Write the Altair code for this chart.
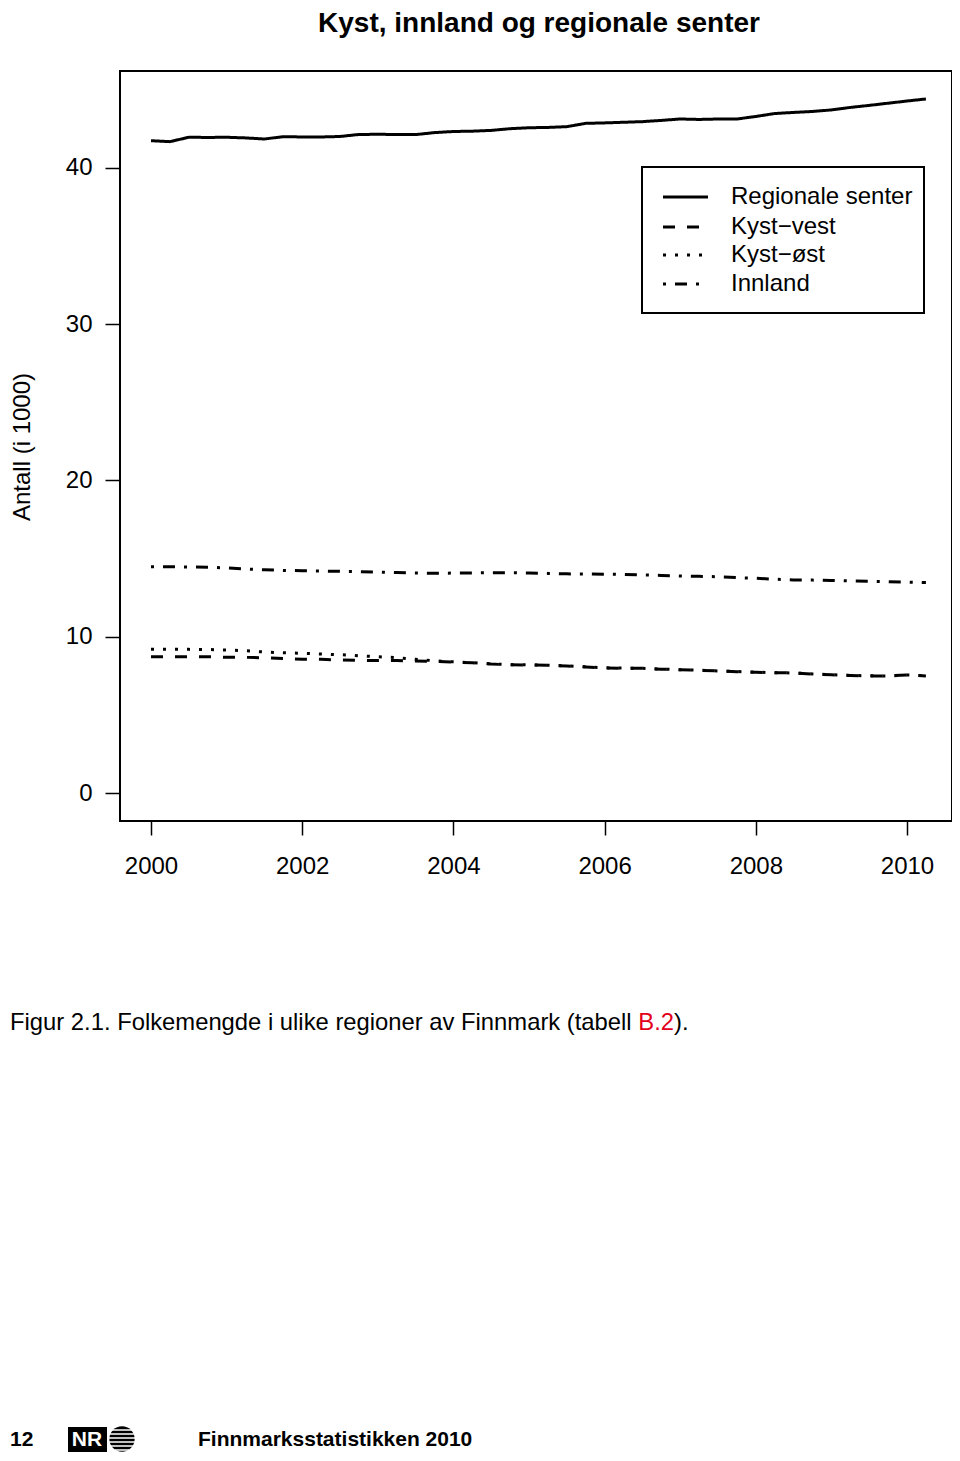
import altair as alt
import pandas as pd

FONT = "Liberation Sans"

# quarterly time index (2000 Q1 .. 2010 Q2)
quarters = [2000 + q / 4 for q in range(42)]

regionale = [41.73, 41.67, 41.95, 41.94, 41.95, 41.91, 41.84, 41.99, 41.97, 41.97,
             42.00, 42.13, 42.14, 42.13, 42.12, 42.25, 42.32, 42.34, 42.39, 42.50,
             42.56, 42.58, 42.63, 42.84, 42.87, 42.91, 42.95, 43.03, 43.12, 43.09,
             43.12, 43.12, 43.28, 43.47, 43.54, 43.60, 43.70, 43.86, 43.99, 44.13,
             44.27, 44.40]
kyst_vest = [8.72, 8.72, 8.72, 8.72, 8.68, 8.68, 8.65, 8.60, 8.55, 8.55,
             8.51, 8.49, 8.47, 8.47, 8.45, 8.42, 8.37, 8.33, 8.25, 8.20,
             8.19, 8.17, 8.13, 8.06, 8.00, 7.98, 7.98, 7.92, 7.89, 7.85,
             7.81, 7.76, 7.72, 7.70, 7.68, 7.61, 7.56, 7.52, 7.49, 7.49,
             7.55, 7.49]
kyst_ost = [9.19, 9.19, 9.19, 9.18, 9.15, 9.10, 9.02, 8.97, 8.94, 8.89,
            8.85, 8.78, 8.72, 8.66, 8.56, 8.46, 8.39, 8.34, 8.26, 8.21,
            8.20, 8.17, 8.14, 8.07, 8.01, 7.99, 7.98, 7.93, 7.89, 7.86,
            7.81, 7.77, 7.73, 7.70, 7.68, 7.62, 7.57, 7.52, 7.50, 7.49,
            7.55, 7.50]
innland = [14.48, 14.47, 14.46, 14.45, 14.40, 14.33, 14.28, 14.24, 14.22, 14.20,
           14.18, 14.16, 14.13, 14.10, 14.07, 14.06, 14.07, 14.08, 14.09, 14.09,
           14.08, 14.05, 14.02, 14.01, 14.00, 13.98, 13.95, 13.92, 13.88, 13.86,
           13.84, 13.78, 13.74, 13.68, 13.63, 13.62, 13.60, 13.57, 13.54, 13.52,
           13.49, 13.47]

series_names = ["Regionale senter", "Kyst\u2212vest", "Kyst\u2212øst", "Innland"]
series_values = [regionale, kyst_vest, kyst_ost, innland]
dashes = [[1, 0], [12, 12], [3, 9], [3, 9, 12, 9]]

x_ticks = [2000, 2002, 2004, 2006, 2008, 2010]
y_ticks = [0, 10, 20, 30, 40]

rows = []
for name, vals in zip(series_names, series_values):
    for t, v in zip(quarters, vals):
        rows.append({"series": name, "t": t, "value": v})
df = pd.DataFrame(rows)
one = pd.DataFrame({"k": [0]})

lines = alt.Chart(df).mark_line(color="black", strokeWidth=3).encode(
    x=alt.X("t:Q",
            scale=alt.Scale(domain=[1999.59, 2010.595], nice=False, zero=False),
            axis=alt.Axis(values=x_ticks, format="d", title=None, tickSize=14,
                          labelPadding=19)),
    y=alt.Y("value:Q",
            scale=alt.Scale(domain=[-1.79, 46.19], nice=False, zero=False),
            axis=alt.Axis(values=y_ticks, title=None, tickSize=15, labelPadding=13)),
    strokeDash=alt.StrokeDash("series:N",
                              scale=alt.Scale(domain=series_names, range=dashes),
                              legend=None),
)


def txt(s, x, y, size, weight="normal", color="black", align="left", angle=0):
    return alt.Chart(one).mark_text(
        text=s, font=FONT, fontSize=size, fontWeight=weight, color=color,
        align=align, baseline="middle", angle=angle
    ).encode(x=alt.value(x), y=alt.value(y))


layers = [lines]

# legend box
layers.append(alt.Chart(one).mark_rect(fill="white", stroke="black", strokeWidth=2).encode(
    x=alt.value(522), x2=alt.value(804), y=alt.value(96), y2=alt.value(242)))
legend_rows = [126, 156, 184, 213]
for name, dash, ry in zip(series_names, dashes, legend_rows):
    layers.append(alt.Chart(one).mark_rule(color="black", strokeWidth=3, strokeDash=dash).encode(
        x=alt.value(543), x2=alt.value(588), y=alt.value(ry)))
    layers.append(txt(name, 611, ry, 24))

# titles and captions
layers.append(txt("Kyst, innland og regionale senter", 419, -47, 28, weight="bold", align="center"))
layers.append(txt("Antall (i 1000)", -97, 376, 24, align="center", angle=270))
layers.append(txt("Figur 2.1. Folkemengde i ulike regioner av Finnmark (tabell ", -110, 952, 23.8))
layers.append(txt("B.2", 518.3, 952, 23.8, color="#e3001b"))
layers.append(txt(").", 554.0, 952, 23.8))

# footer
fy = 1369
layers.append(txt("12", -110, fy, 21, weight="bold"))
layers.append(alt.Chart(one).mark_rect(fill="black").encode(
    x=alt.value(-52), x2=alt.value(-13), y=alt.value(fy - 13), y2=alt.value(fy + 12)))
layers.append(txt("NR", -33, fy, 21, weight="bold", color="white", align="center"))
layers.append(alt.Chart(one).mark_point(shape="circle", filled=True, color="black", size=640, opacity=1).encode(
    x=alt.value(2), y=alt.value(fy - 1)))
for dy, half in [(-9, 10), (-5, 13), (-1, 14), (3, 13.5), (7, 11.5), (11, 7)]:
    layers.append(alt.Chart(one).mark_rule(color="white", strokeWidth=1.5).encode(
        x=alt.value(2 - half), x2=alt.value(2 + half), y=alt.value(fy - 1 + dy)))
layers.append(txt("Finnmarksstatistikken 2010", 78, fy, 21, weight="bold"))

chart = alt.layer(*layers).properties(
    width=832, height=750,
    padding={"left": 112, "top": 63, "right": 0, "bottom": 632},
    autosize=alt.AutoSizeParams(type="none"),
).configure_view(
    stroke="black", strokeWidth=2
).configure_axis(
    domain=False, grid=False, labelFont=FONT, labelFontSize=24, labelColor="black",
    tickColor="black", tickWidth=1.5,
)

chart.save("out.html", embed_options={"renderer": "svg", "actions": False})
